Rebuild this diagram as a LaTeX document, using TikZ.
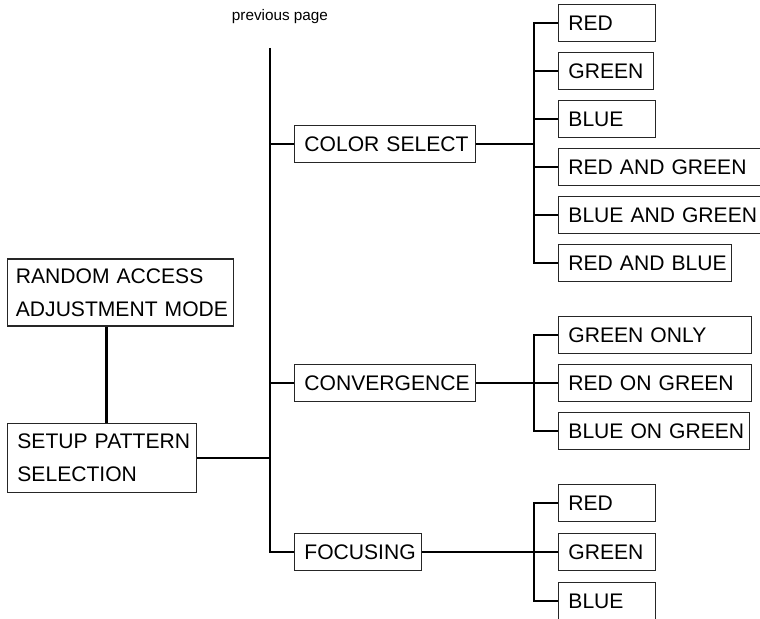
\documentclass[tikz,border=0pt]{standalone}
\usepackage{fontspec}
\setmainfont{Liberation Sans}
\usetikzlibrary{positioning,calc}
\tikzset{
  item/.style={draw=black!85, line width=1pt, anchor=west, align=left,
              inner xsep=0.33cm, inner ysep=0pt, minimum height=1.22cm,
              font=\fontsize{20}{31}\selectfont,
              execute at begin node={\hyphenpenalty=10000\exhyphenpenalty=10000}},
  link/.style={black, line width=2.2pt},
}

\begin{document}
\begin{tikzpicture}
        \useasboundingbox (0,0) rectangle (25.333,20.633);
        \clip (0,0) rectangle (25.333,20.633);
        \node[font=\fontsize{14.5}{17}\selectfont] (prev) at (9.333,20.067) {previous page};
        \node[item,inner xsep=0.28cm,text width=6.97cm,minimum height=2.233cm] (rand) at (0.233,10.883) {RANDOM~ACCESS\\ADJUSTMENT~MODE};
        \node[item,text width=5.64cm,minimum height=2.33cm] (setup) at (0.233,5.367) {SETUP~PATTERN\\SELECTION};
        \node[item,text width=5.37cm] (color) at (9.8,15.833) {COLOR~SELECT};
        \node[item,text width=5.37cm] (conv) at (9.8,7.867) {CONVERGENCE};
        \node[item,text width=3.57cm] (focus) at (9.8,2.233) {FOCUSING};
        % color select
        \node[item,text width=2.57cm] (cs1) at (18.6,19.867) {RED};
        \node[item,text width=2.51cm] (cs2) at (18.6,18.267) {GREEN};
        \node[item,text width=2.57cm] (cs3) at (18.6,16.667) {BLUE};
        \node[item,text width=6.5cm] (cs4) at (18.6,15.067) {RED~AND~GREEN};
        \node[item,text width=6.5cm] (cs5) at (18.6,13.467) {BLUE~AND~GREEN};
        \node[item,text width=5.11cm] (cs6) at (18.6,11.867) {RED~AND~BLUE};
        % convergence
        \node[item,text width=5.77cm] (cv1) at (18.6,9.467) {GREEN~ONLY};
        \node[item,text width=5.77cm] (cv2) at (18.6,7.867) {RED~ON~GREEN};
        \node[item,text width=5.71cm] (cv3) at (18.6,6.267) {BLUE~ON~GREEN};
        % focusing
        \node[item,text width=2.57cm] (fc1) at (18.6,3.867) {RED};
        \node[item,text width=2.57cm] (fc2) at (18.6,2.233) {GREEN};
        \node[item,text width=2.57cm] (fc3) at (18.6,0.6) {BLUE};
        \coordinate (top) at (9.0,19.033);
        \coordinate (cx) at (17.8,0);
        \draw[link] (top) |- (focus.west);
        \draw[link] (top |- color.west) -- (color.west);
        \draw[link] (top |- conv.west) -- (conv.west);
        \draw[link] (setup.east) -- (setup.east -| top);
        \draw[link] ([xshift=0.15cm]setup.north) -- ([xshift=0.15cm]setup.north |- rand.south);
        \draw[link] (color.east) -- (color.east -| cx);
        \draw[link] (cs1.west) -| (cx |- cs6.west) -- (cs6.west);
        \draw[link] (cs2.west) -- (cs2.west -| cx);
        \draw[link] (cs3.west) -- (cs3.west -| cx);
        \draw[link] (cs4.west) -- (cs4.west -| cx);
        \draw[link] (cs5.west) -- (cs5.west -| cx);
        \draw[link] (conv.east) -- (conv.east -| cx);
        \draw[link] (cv1.west) -| (cx |- cv3.west) -- (cv3.west);
        \draw[link] (cv2.west) -- (cv2.west -| cx);
        \draw[link] (focus.east) -- (focus.east -| cx);
        \draw[link] (fc1.west) -| (cx |- fc3.west) -- (fc3.west);
        \draw[link] (fc2.west) -- (fc2.west -| cx);
      \end{tikzpicture}
\end{document}
